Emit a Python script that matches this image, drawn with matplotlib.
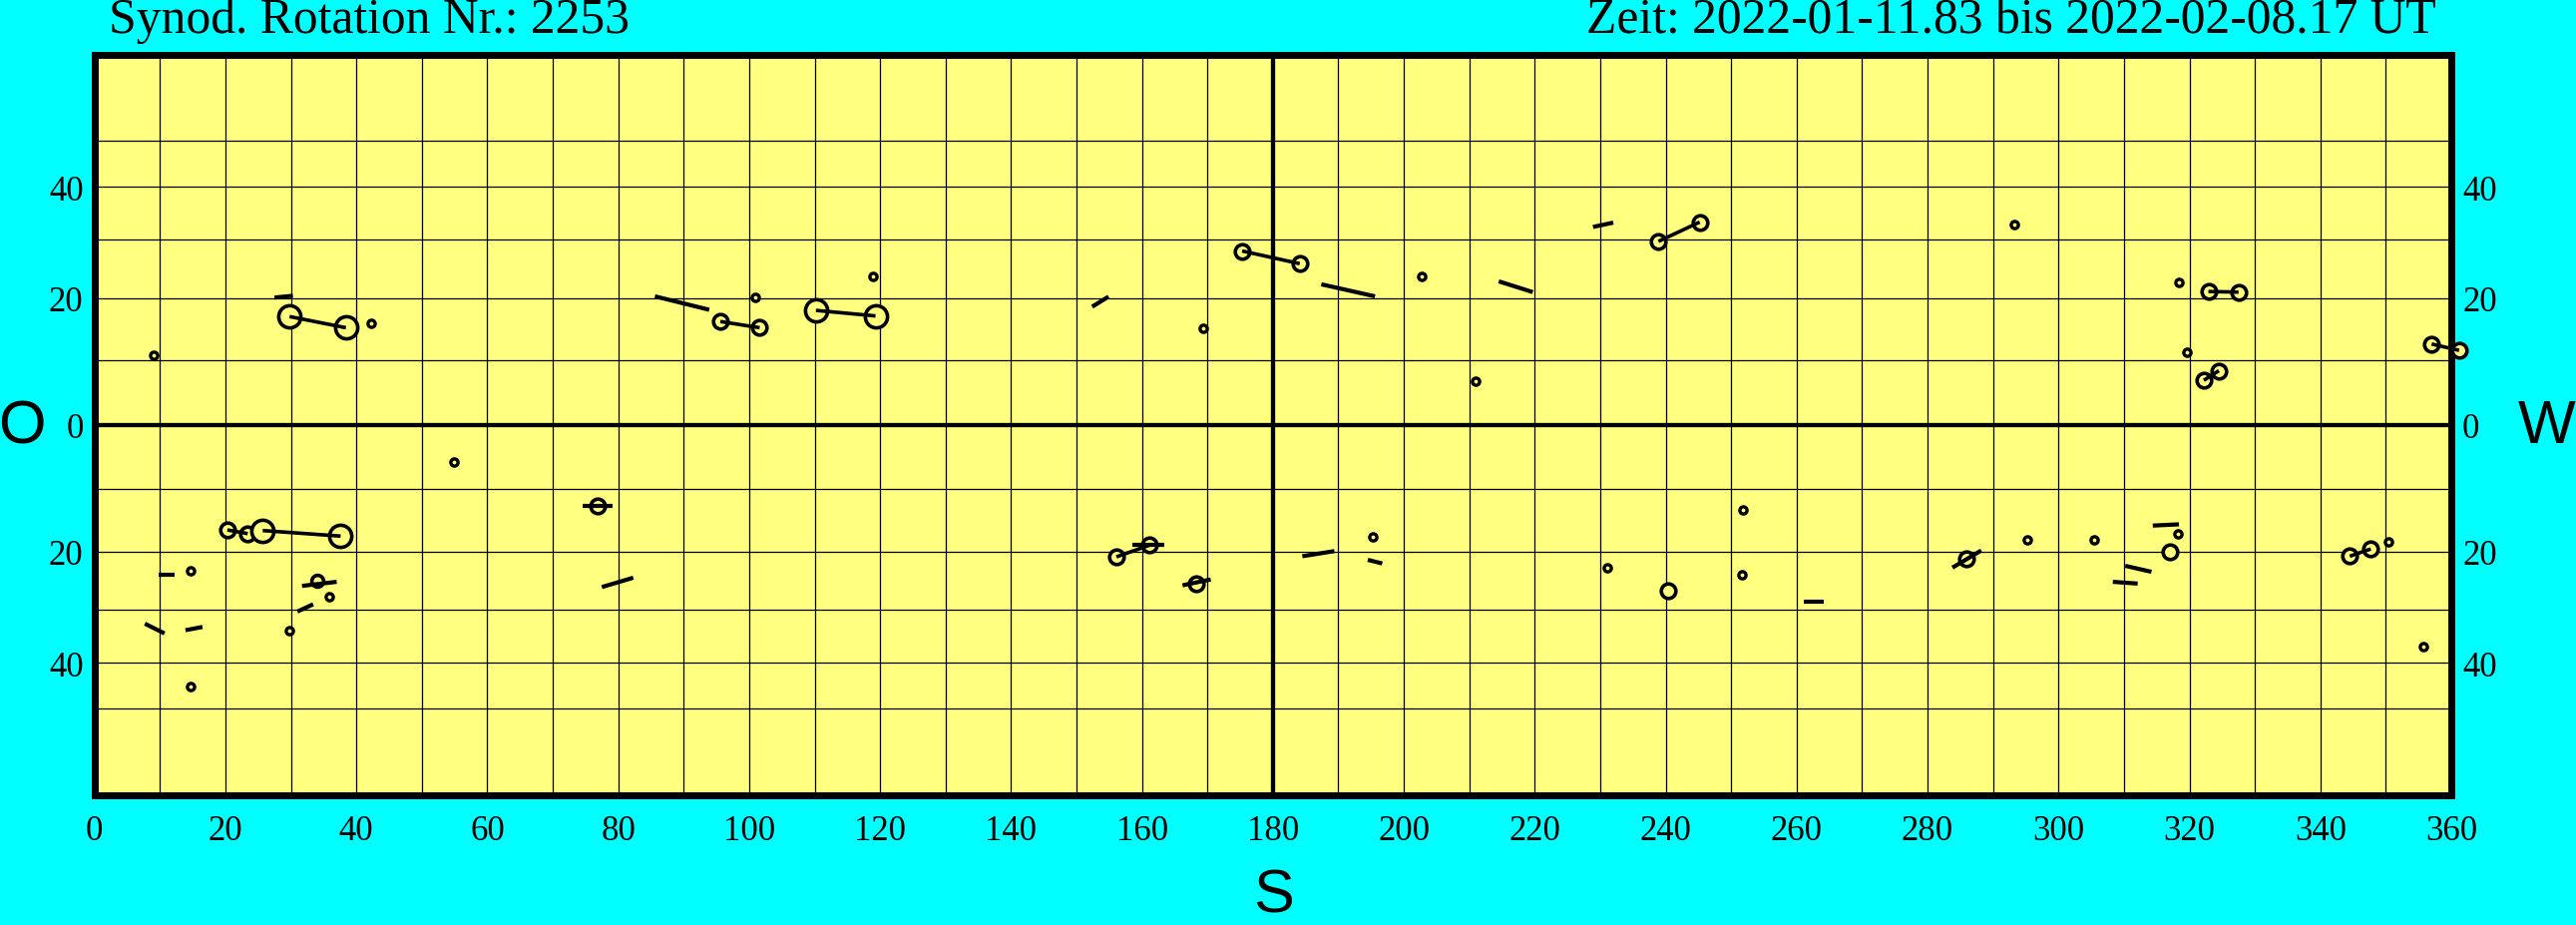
import numpy as np
import matplotlib
matplotlib.use("Agg")
import matplotlib.pyplot as plt
from matplotlib.ticker import MultipleLocator, FixedLocator, FuncFormatter

# small sunspot rings (Carrington longitude, latitude)
dot_lon = [9.0, 42.3, 100.9, 118.9, 169.3, 202.8, 210.9, 293.2, 318.4, 319.6,
           54.9, 14.7, 35.8, 29.7, 14.6, 195.3, 231.1, 251.8, 251.6, 295.2,
           305.4, 318.2, 350.4, 355.7]
dot_lat = [10.9, 15.9, 20.1, 23.7, 15.1, 23.7, 6.8, 32.75, 22.6, 11.25,
           -5.8, -23.3, -27.7, -33.7, -44.9, -17.7, -22.7, -13.3, -23.9, -18.1,
           -18.1, -17.1, -18.4, -36.9]

# larger spots: class 1 small, 2 medium, 3 large
spot_lon = [29.8, 38.4, 95.6, 101.6, 110.2, 119.3, 175.3, 184.1, 238.9, 245.2,
            322.9, 327.5, 322.2, 324.5, 357.0, 361.2,
            20.3, 23.4, 25.7, 37.6, 34.0, 76.9, 156.1, 161.1, 168.3, 240.4,
            285.9, 317.1, 344.5, 347.7]
spot_lat = [17.0, 15.2, 16.2, 15.2, 18.0, 17.1, 28.0, 25.8, 29.7, 33.2,
            21.1, 21.0, 6.9, 8.4, 12.6, 11.6,
            -16.5, -17.1, -16.6, -17.5, -25.0, -12.7, -20.9, -19.0, -25.4, -26.7,
            -21.3, -20.1, -20.8, -19.6]
spot_cls = [3, 3, 2, 2, 3, 3, 2, 2, 2, 2,
            2, 2, 2, 2, 2, 2,
            2, 2, 3, 3, 1, 2, 2, 2, 2, 2,
            2, 2, 2, 2]

# connected spot pairs (indices into spot arrays)
link_a = [0, 2, 4, 6, 8, 10, 12, 14, 16, 18, 22, 28]
link_b = [1, 3, 5, 7, 9, 11, 13, 15, 17, 19, 23, 29]

# groups drawn as plain line segments
seg_lon1 = [27.5, 85.6, 152.4, 187.4, 214.5, 228.9,
            9.8, 31.7, 31.0, 7.7, 13.9, 74.6, 77.5, 158.5, 166.2, 184.5,
            194.5, 261.1, 283.8, 314.4, 310.2, 308.3]
seg_lat1 = [20.1, 20.3, 18.6, 22.3, 22.8, 32.3,
            -23.9, -25.8, -30.3, -32.5, -33.7, -12.7, -26.0, -19.0, -25.7, -20.8,
            -21.4, -28.5, -22.7, -15.8, -22.4, -25.1]
seg_lon2 = [30.3, 93.9, 154.9, 195.6, 219.7, 232.0,
            12.2, 37.0, 33.4, 10.7, 16.5, 79.1, 82.3, 163.4, 170.5, 189.4,
            196.7, 264.1, 288.2, 318.4, 314.2, 312.1]
seg_lat2 = [20.4, 18.1, 20.25, 20.3, 21.0, 33.1,
            -23.9, -25.1, -29.0, -34.3, -33.1, -12.7, -24.4, -19.0, -24.7, -19.95,
            -22.0, -28.5, -19.85, -15.6, -23.4, -25.4]

rotation = 2253
zeit = "Zeit: 2022-01-11.83 bis 2022-02-08.17 UT"

W, H = 2582, 928
cyan = "#00ffff"
yellow = "#ffff80"
serif = "Liberation Serif"
sans = "Liberation Sans"
plt.rcParams["font.family"] = [serif, "DejaVu Serif"]

fig = plt.figure(figsize=(W / 100, H / 100), dpi=100, facecolor=cyan)
ax = fig.add_axes([94.7 / W, (H - 797.7) / H, 2362.3 / W, 742 / H])
ax.set_facecolor(yellow)

# latitude axis in sin(latitude)
fwd = lambda y: np.sin(np.radians(y))
inv = lambda s: np.degrees(np.arcsin(np.clip(s, -1, 1)))
ax.set_yscale("function", functions=(fwd, inv))
ax.set_xlim(0, 360)
ax.set_ylim(-90, 90)

ax.xaxis.set_major_locator(MultipleLocator(20))
ax.xaxis.set_minor_locator(MultipleLocator(10))
ax.yaxis.set_major_locator(FixedLocator([-40, -20, 0, 20, 40]))
ax.yaxis.set_minor_locator(FixedLocator([]))
ax.yaxis.set_major_formatter(FuncFormatter(lambda v, p: "%d" % abs(round(v))))
ax.xaxis.set_major_formatter(FuncFormatter(lambda v, p: "%d" % round(v)))
ax.tick_params(which="both", length=0, labelsize=25)
ax.tick_params(axis="y", labelright=True, pad=8)
ax.tick_params(axis="x", pad=14)
for sp in ax.spines.values():
    sp.set_linewidth(5)

# grid
for lo in range(10, 360, 10):
    ax.axvline(lo, color="black", lw=3.1 if lo == 180 else 0.9, zorder=1.5)
for la in range(-50, 60, 10):
    ax.axhline(la, color="black", lw=3.1 if la == 0 else 0.9, zorder=1.5)

# spots
ms = {1: 8.5, 2: 10.5, 3: 16.0}
for lo, la, c in zip(spot_lon, spot_lat, spot_cls):
    ax.plot(lo, la, "o", ms=ms[c], mfc=yellow, mec="black", mew=2.6,
            clip_on=False, zorder=3)
ax.plot(dot_lon, dot_lat, "o", ls="none", ms=5.2, mfc=yellow, mec="black",
        mew=2.4, clip_on=False, zorder=3)

for a, b in zip(link_a, link_b):
    ax.plot([spot_lon[a], spot_lon[b]], [spot_lat[a], spot_lat[b]],
            color="black", lw=2.6, solid_capstyle="butt", clip_on=False, zorder=4)

for x1, y1, x2, y2 in zip(seg_lon1, seg_lat1, seg_lon2, seg_lat2):
    ax.plot([x1, x2], [y1, y2], color="black", lw=3.0,
            solid_capstyle="butt", zorder=4)

# texts
fig.text(109 / W, 1 - 33 / H, "Synod. Rotation Nr.: %d" % rotation,
         family=serif, fontsize=35.7, ha="left", va="baseline")
fig.text(2442 / W, 1 - 33 / H, zeit,
         family=serif, fontsize=35.7, ha="right", va="baseline")
fig.text(22 / W, 1 - 429 / H, "O", family=sans, fontsize=44,
         ha="center", va="center")
fig.text(2524 / W, 1 - 429 / H, "W", family=sans, fontsize=44,
         ha="left", va="center")
fig.text(1277 / W, 1 - 899 / H, "S", family=sans, fontsize=44,
         ha="center", va="center")

fig.savefig("out.png", dpi=100, facecolor=cyan)
